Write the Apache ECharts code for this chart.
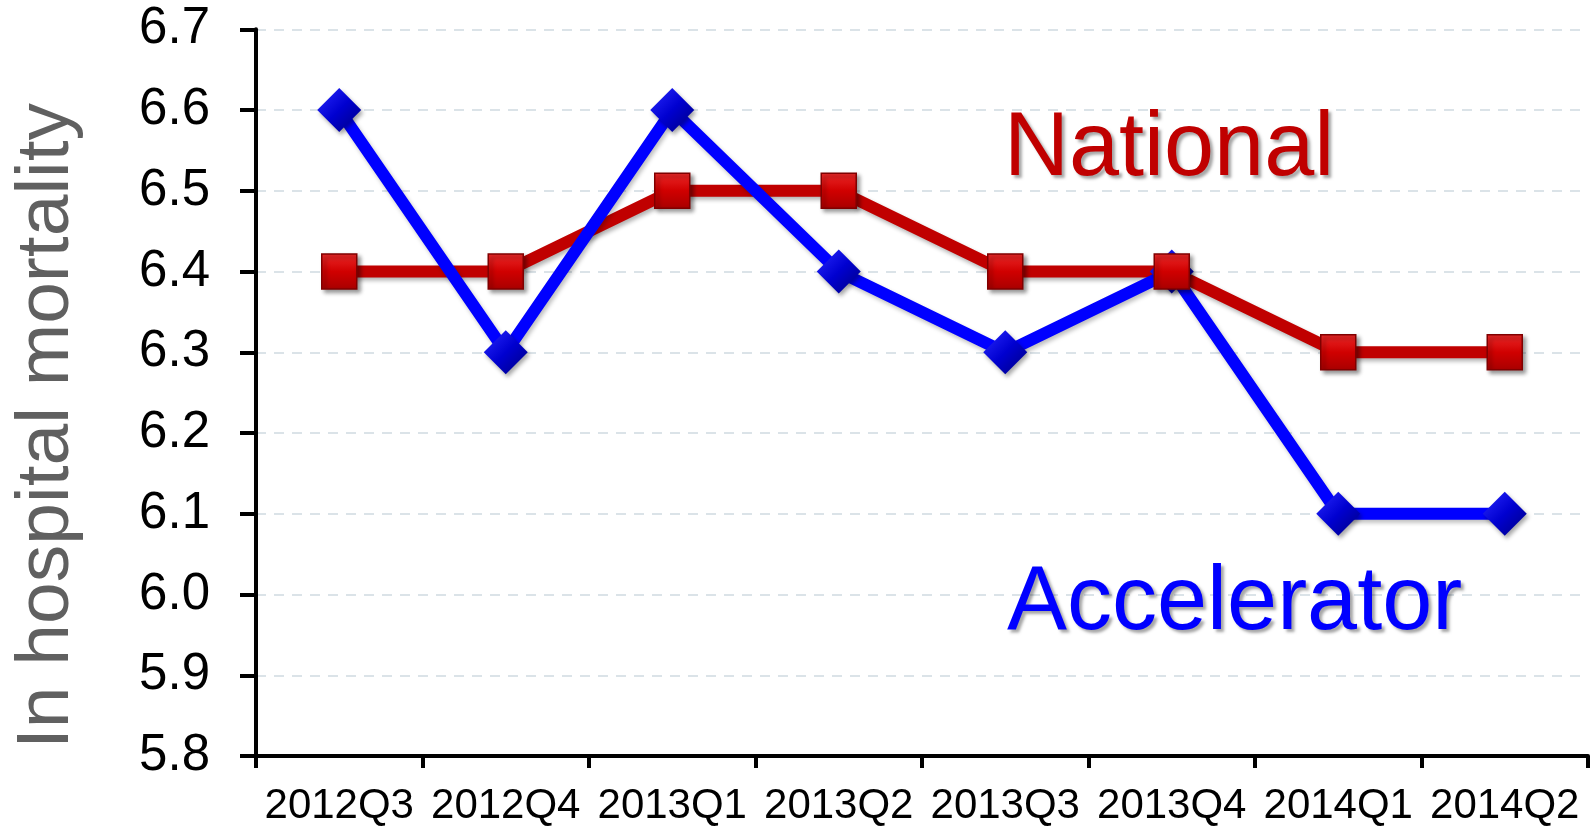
<!DOCTYPE html>
<html>
<head>
<meta charset="utf-8">
<title>In hospital mortality</title>
<script src="https://cdn.jsdelivr.net/npm/echarts@6.0.0/dist/echarts.min.js"></script>
<style>
  html, body { margin: 0; padding: 0; background: #fff; }
  #chart { width: 1591px; height: 827px; }
</style>
</head>
<body>
<div id="chart"></div>
<script>
// data
var categories = ['2012Q3', '2012Q4', '2013Q1', '2013Q2', '2013Q3', '2013Q4', '2014Q1', '2014Q2'];
var national = [6.4, 6.4, 6.5, 6.5, 6.4, 6.4, 6.3, 6.3];
var accelerator = [6.6, 6.3, 6.6, 6.4, 6.3, 6.4, 6.1, 6.1];
var yMin = 5.8;
var yMax = 6.7;
var yStep = 0.1;
var yTitle = 'In hospital mortality';

var font = '"Liberation Sans", Arial, sans-serif';
var shadow = 'rgba(0,0,0,0.35)';

var chart = echarts.init(document.getElementById('chart'));

var option = {
    backgroundColor: '#fff',
    animation: false,
    grid: {
        left: 256,
        right: 3,
        top: 29.3,
        bottom: 69,
        containLabel: false
    },
    xAxis: {
        type: 'category',
        data: categories,
        boundaryGap: true,
        axisLine: { lineStyle: { color: '#000', width: 4 } },
        axisTick: { show: true, length: 12, lineStyle: { color: '#000', width: 4 } },
        axisLabel: { color: '#000', fontSize: 42, fontFamily: font, margin: 29, interval: 0 },
        splitLine: { show: false }
    },
    yAxis: {
        type: 'value',
        min: yMin,
        max: yMax,
        interval: yStep,
        axisLine: { show: true, lineStyle: { color: '#000', width: 4 } },
        axisTick: { show: true, length: 16, lineStyle: { color: '#000', width: 4 } },
        axisLabel: {
            color: '#000', fontSize: 51, fontFamily: font, margin: 46,
            formatter: function (v) { return v.toFixed(1); }
        },
        splitLine: { show: true, lineStyle: { color: '#dbe3e8', width: 2, type: [10, 8] } }
    },
    graphic: [
        {
            type: 'text', x: 47, y: 426, rotation: Math.PI / 2,
            style: {
                text: yTitle, fill: '#606060', font: '75px ' + font,
                textAlign: 'center', textVerticalAlign: 'middle'
            }
        },
        {
            type: 'text', x: 1004, y: 150, z: 100,
            style: {
                text: 'National', fill: '#c00000', font: '90px ' + font,
                textAlign: 'left', textVerticalAlign: 'middle',
                textShadowColor: shadow, textShadowBlur: 3, textShadowOffsetX: 3, textShadowOffsetY: 3
            }
        },
        {
            type: 'text', x: 1007, y: 604, z: 100,
            style: {
                text: 'Accelerator', fill: '#0000ff', font: '90px ' + font,
                textAlign: 'left', textVerticalAlign: 'middle',
                textShadowColor: shadow, textShadowBlur: 3, textShadowOffsetX: 3, textShadowOffsetY: 3
            }
        }
    ],
    series: [
        {
            // red line under the blue one
            name: 'National',
            type: 'line',
            data: national,
            z: 2,
            showSymbol: false,
            lineStyle: {
                color: '#c00000', width: 12,
                shadowColor: 'rgba(0,0,0,0.3)', shadowBlur: 4, shadowOffsetX: 2, shadowOffsetY: 3
            }
        },
        {
            name: 'Accelerator',
            type: 'line',
            data: accelerator,
            z: 3,
            symbol: 'diamond',
            symbolSize: 44,
            lineStyle: {
                color: '#0000ff', width: 12,
                shadowColor: 'rgba(0,0,0,0.25)', shadowBlur: 4, shadowOffsetX: 2, shadowOffsetY: 3
            },
            itemStyle: {
                color: new echarts.graphic.LinearGradient(0, 0, 1, 1, [
                    { offset: 0, color: '#2a2aff' },
                    { offset: 0.5, color: '#0000d0' },
                    { offset: 1, color: '#000080' }
                ]),
                borderWidth: 0,
                shadowColor: 'rgba(0,0,0,0.35)', shadowBlur: 4, shadowOffsetX: 2, shadowOffsetY: 3
            }
        },
        {
            // red square markers drawn on top
            name: 'National',
            type: 'scatter',
            data: national,
            z: 4,
            symbol: 'rect',
            symbolSize: 35,
            itemStyle: {
                color: new echarts.graphic.LinearGradient(0, 0, 0, 1, [
                    { offset: 0, color: '#ec2a2a' },
                    { offset: 0.5, color: '#d00000' },
                    { offset: 1, color: '#a80000' }
                ]),
                borderColor: '#800000',
                borderWidth: 1.5,
                opacity: 1,
                shadowColor: 'rgba(0,0,0,0.4)', shadowBlur: 4, shadowOffsetX: 3, shadowOffsetY: 3
            }
        }
    ]
};

chart.setOption(option);
</script>
</body>
</html>
